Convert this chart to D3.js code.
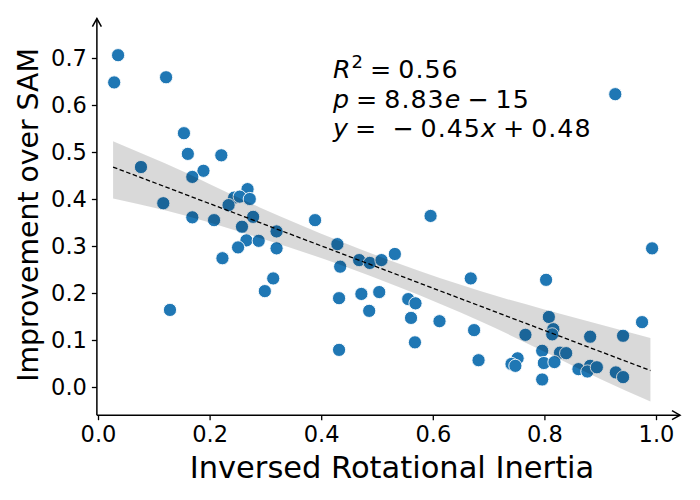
<!DOCTYPE html>
<html>
<head>
<meta charset="utf-8">
<script src="https://cdn.jsdelivr.net/npm/d3@7"></script>
<style>
  body { margin: 0; background: #fff; }
  svg { display: block; font-family: "DejaVu Sans", sans-serif; }
</style>
</head>
<body>
<svg id="chart" width="700" height="500"></svg>
<script>
// ---- data ----
const xValues = [0.036,0.029,0.122,0.154,0.161,0.221,0.077,0.189,0.169,0.268,0.244,0.254,0.272,0.234,0.117,0.169,0.208,0.278,0.258,0.320,
  0.266,0.288,0.251,0.320,0.223,0.314,0.299,0.129,
  0.389,0.596,0.429,0.434,0.468,0.487,0.508,0.532,0.668,0.432,0.472,0.504,0.486,0.556,0.569,0.561,0.612,0.674,0.568,0.432,0.682,
  0.993,0.803,0.808,0.816,0.814,0.766,0.882,0.941,0.975,0.796,0.828,0.839,0.752,0.741,0.748,0.799,0.818,0.861,0.882,0.877,0.894,0.928,0.941,0.796,
  0.927];
const yValues = [0.706,0.648,0.659,0.540,0.496,0.493,0.468,0.460,0.447,0.421,0.403,0.405,0.400,0.387,0.391,0.361,0.355,0.362,0.341,0.331,
  0.312,0.311,0.297,0.295,0.274,0.231,0.204,0.164,
  0.355,0.364,0.304,0.256,0.270,0.264,0.270,0.283,0.231,0.189,0.198,0.202,0.162,0.187,0.178,0.147,0.140,0.121,0.095,0.079,0.057,
  0.295,0.228,0.149,0.123,0.112,0.111,0.107,0.109,0.138,0.077,0.073,0.072,0.061,0.049,0.045,0.051,0.053,0.038,0.045,0.033,0.042,0.031,0.021,0.016,
  0.623];

// regression line end points and confidence band
const fitX = [0.027, 0.99];
const fitY = [0.468, 0.035];
const bandX = [0.027, 0.12, 0.29, 0.434, 0.54, 0.685, 0.8, 0.9, 0.99];
const bandUpper = [0.523, 0.476, 0.382, 0.310, 0.262, 0.204, 0.165, 0.133, 0.104];
const bandLower = [0.401, 0.376, 0.317, 0.260, 0.212, 0.140, 0.075, 0.017, -0.031];

const xTicks = [0.0, 0.2, 0.4, 0.6, 0.8, 1.0];
const yTicks = [0.0, 0.1, 0.2, 0.3, 0.4, 0.5, 0.6, 0.7];

// ---- layout ----
const svg = d3.select("#chart");
const x = d3.scaleLinear().domain([0, 1]).range([98, 656]);
const y = d3.scaleLinear().domain([0, 0.7]).range([387, 58]);
const xLim = [-0.002, 1.043];
const yLim = [-0.06, 0.784];

// points
const pts = xValues.map((v, i) => ({ x: v, y: yValues[i] }));
svg.append("g").selectAll("circle").data(pts).join("circle")
  .attr("cx", d => x(d.x)).attr("cy", d => y(d.y)).attr("r", 6.6)
  .attr("fill", "#1f77b4").attr("stroke", "#ffffff").attr("stroke-width", 0.9);

// confidence band
const band = bandX.map((v, i) => ({ x: v, lo: bandLower[i], hi: bandUpper[i] }));
svg.append("path").datum(band)
  .attr("d", d3.area().x(d => x(d.x)).y0(d => y(d.lo)).y1(d => y(d.hi)).curve(d3.curveMonotoneX))
  .attr("fill", "#000").attr("fill-opacity", 0.15).attr("stroke", "none");

// fit line
svg.append("path").datum(fitX.map((v, i) => ({ x: v, y: fitY[i] })))
  .attr("d", d3.line().x(d => x(d.x)).y(d => y(d.y)))
  .attr("fill", "none").attr("stroke", "#000").attr("stroke-width", 1.3)
  .attr("stroke-dasharray", "4.5,2.5");

// axes
const xAxis = d3.axisBottom(x).tickValues(xTicks).tickFormat(d3.format(".1f")).tickSize(5).tickPadding(6);
const yAxis = d3.axisLeft(y).tickValues(yTicks).tickFormat(d3.format(".1f")).tickSize(5).tickPadding(5);
const gx = svg.append("g").attr("transform", `translate(0,${y(yLim[0])})`).call(xAxis);
const gy = svg.append("g").attr("transform", `translate(${x(xLim[0])},0)`).call(yAxis);
[gx, gy].forEach(g => {
  g.select(".domain").remove();
  g.selectAll(".tick line").attr("stroke", "#000").attr("stroke-width", 1.3);
  g.selectAll(".tick text").attr("fill", "#000").style("font-size", "22.5px").style("font-family", "DejaVu Sans");
});

// spines with arrows
const x0 = x(xLim[0]), y0 = y(yLim[0]);
const x1 = x(xLim[1]), y1 = y(yLim[1]);
svg.append("line").attr("x1", x0).attr("y1", y0).attr("x2", x1).attr("y2", y0)
  .attr("stroke", "#000").attr("stroke-width", 1.5);
svg.append("line").attr("x1", x0).attr("y1", y0).attr("x2", x0).attr("y2", y1)
  .attr("stroke", "#000").attr("stroke-width", 1.5);
svg.append("path").attr("d", `M${x1-8},${y0-4.5} L${x1},${y0} L${x1-8},${y0+4.5}`)
  .attr("fill", "none").attr("stroke", "#000").attr("stroke-width", 1.5);
svg.append("path").attr("d", `M${x0-4.5},${y1+8} L${x0},${y1} L${x0+4.5},${y1+8}`)
  .attr("fill", "none").attr("stroke", "#000").attr("stroke-width", 1.5);

// axis labels
svg.append("text").attr("x", 392).attr("y", 478).attr("text-anchor", "middle")
  .style("font-size", "30.5px").attr("fill", "#000").text("Inversed Rotational Inertia");
svg.append("text").attr("transform", "translate(38,215) rotate(-90)").attr("text-anchor", "middle")
  .style("font-size", "28.3px").attr("fill", "#000").text("Improvement over SAM");

// annotation: one text block with three lines
const ann = svg.append("text").attr("x", 333).attr("y", 78)
  .style("font-size", "25.3px").style("letter-spacing", "1px").attr("fill", "#000");
ann.append("tspan").style("font-style", "italic").text("R");
ann.append("tspan").attr("dy", -10).style("font-size", "18px").text("2");
ann.append("tspan").attr("dy", 10).text("\u2009=\u20090.56");
ann.append("tspan").attr("x", 333).attr("dy", 29.5).style("font-style", "italic").text("p");
ann.append("tspan").text("\u2009=\u20098.83");
ann.append("tspan").style("font-style", "italic").text("e");
ann.append("tspan").text("\u2009\u2212\u200915");
ann.append("tspan").attr("x", 333).attr("dy", 29.5).style("font-style", "italic").text("y");
ann.append("tspan").text("\u2009=\u2009 \u2212\u20090.45");
ann.append("tspan").style("font-style", "italic").text("x");
ann.append("tspan").text("\u2009+\u20090.48");
</script>
</body>
</html>
